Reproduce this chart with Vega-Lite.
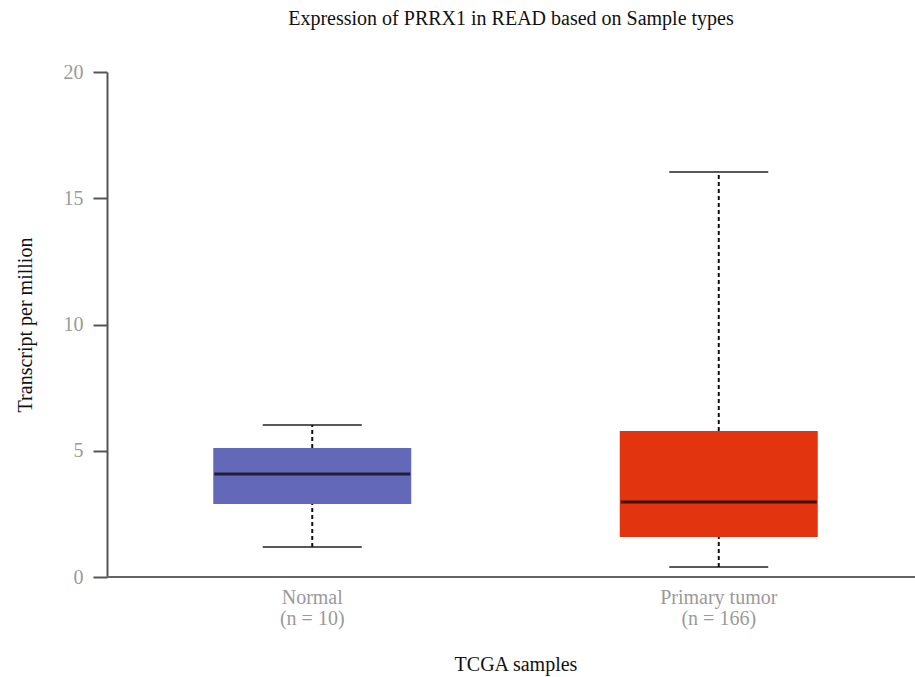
{
  "$schema": "https://vega.github.io/schema/vega-lite/v6.json",
  "autosize": "none",
  "width": 808,
  "height": 505,
  "padding": {"left": 107, "top": 72, "right": 0, "bottom": 100},
  "background": "white",
  "config": {
    "view": {"stroke": null},
    "font": "Liberation Serif"
  },
  "title": {
    "text": "Expression of PRRX1 in READ based on Sample types",
    "font": "Liberation Serif",
    "fontSize": 20,
    "fontWeight": "normal",
    "color": "#111",
    "anchor": "middle",
    "offset": 33
  },
  "data": {
    "values": [
      {"type": "Normal", "lower": 1.19, "q1": 2.89, "median": 4.08, "q3": 5.11, "upper": 6.02},
      {"type": "Primary tumor", "lower": 0.4, "q1": 1.58, "median": 2.97, "q3": 5.78, "upper": 16.04}
    ]
  },
  "encoding": {
    "x": {
      "field": "type",
      "type": "nominal",
      "sort": ["Normal", "Primary tumor"],
      "scale": {"paddingInner": 0, "paddingOuter": 0, "range": [2, 815]},
      "axis": {
        "title": "TCGA samples",
        "labelAngle": 0,
        "labelExpr": "datum.value == 'Normal' ? ['Normal', '(n = 10)'] : ['Primary tumor', '(n = 166)']",
        "labelFont": "Liberation Serif",
        "labelFontSize": 20,
        "labelColor": "#9a9a9a",
        "labelLineHeight": 21,
        "labelPadding": 10,
        "ticks": false,
        "domain": false,
        "titleFont": "Liberation Serif",
        "titleFontSize": 20,
        "titleFontWeight": "normal",
        "titleColor": "#111",
        "titlePadding": 26
      }
    }
  },
  "layer": [
    {
      "mark": {"type": "rule", "color": "#666", "strokeWidth": 2},
      "encoding": {
        "x": null,
        "y": {"datum": 0, "type": "quantitative"}
      }
    },
    {
      "mark": {"type": "rule", "color": "#111", "strokeWidth": 2, "strokeDash": [4, 3]},
      "encoding": {
        "y": {
          "field": "lower",
          "type": "quantitative",
          "scale": {"domain": [0, 20], "nice": false},
          "axis": {
            "title": "Transcript per million",
            "values": [0, 5, 10, 15, 20],
            "grid": false,
            "domainColor": "#555",
            "domainWidth": 2,
            "tickColor": "#555",
            "tickWidth": 2,
            "tickSize": 14,
            "labelPadding": 10,
            "labelFont": "Liberation Serif",
            "labelFontSize": 20,
            "labelColor": "#9a9a9a",
            "titleFont": "Liberation Serif",
            "titleFontSize": 20,
            "titleFontWeight": "normal",
            "titleColor": "#111",
            "titlePadding": 28
          }
        },
        "y2": {"field": "q1"}
      }
    },
    {
      "mark": {"type": "rule", "color": "#111", "strokeWidth": 2, "strokeDash": [4, 3]},
      "encoding": {
        "y": {"field": "q3", "type": "quantitative"},
        "y2": {"field": "upper"}
      }
    },
    {
      "mark": {"type": "tick", "color": "#111", "size": 99, "thickness": 2},
      "encoding": {"y": {"field": "lower", "type": "quantitative"}}
    },
    {
      "mark": {"type": "tick", "color": "#111", "size": 99, "thickness": 2},
      "encoding": {"y": {"field": "upper", "type": "quantitative"}}
    },
    {
      "mark": {"type": "bar", "size": 198, "opacity": 1},
      "encoding": {
        "y": {"field": "q1", "type": "quantitative"},
        "y2": {"field": "q3"},
        "color": {
          "field": "type",
          "type": "nominal",
          "scale": {"domain": ["Normal", "Primary tumor"], "range": ["#6468b9", "#e1340f"]},
          "legend": null
        }
      }
    },
    {
      "mark": {"type": "tick", "color": "#000", "size": 196, "thickness": 3},
      "encoding": {"y": {"field": "median", "type": "quantitative"}}
    }
  ]
}
